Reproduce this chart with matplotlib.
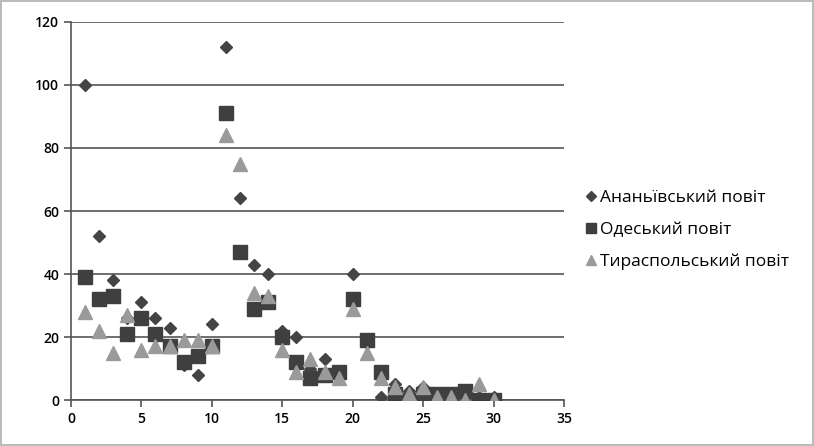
import numpy as np
import matplotlib
matplotlib.use('Agg')
import matplotlib.pyplot as plt

plt.rcParams['font.family'] = ['Open Sans', 'DejaVu Sans']

x_days = list(range(1, 31))
ananiv = [100, 52, 38, 26, 31, 26, 23, 11, 8, 24,
          112, 64, 43, 40, 22, 20, 10, 13, 9, 40,
          18, 1, 5, 3, 4, 2, 2, 2, 1, 1]
odesa = [39, 32, 33, 21, 26, 21, 17, 12, 14, 17,
         91, 47, 29, 31, 20, 12, 7, 8, 9, 32,
         19, 9, 2, 0, 2, 2, 2, 3, 0, 0]
tiraspol = [28, 22, 15, 27, 16, 17, 17, 19, 19, 17,
            84, 75, 34, 33, 16, 9, 13, 9, 7, 29,
            15, 7, 4, 2, 4, 1, 1, 0, 5, 0]
names = ['Ананьївський повіт', 'Одеський повіт', 'Тираспольський повіт']

fig = plt.figure(figsize=(8.14, 4.46), dpi=100)
fig.patch.set_edgecolor('#bbbbbb')
fig.patch.set_linewidth(1.5)
ax = fig.add_axes([0.0872, 0.1031, 0.6056, 0.8476])

ax.plot(x_days, ananiv, 'D', color='#444444', markersize=6.5, label=names[0], zorder=3)
ax.plot(x_days, odesa, 's', color='#3f3f3f', markersize=9.5, label=names[1], zorder=4)
ax.plot(x_days, tiraspol, '^', color='#9a9a9a', markersize=9.5, label=names[2], zorder=5)

ax.set_xlim(0, 35)
ax.set_ylim(0, 120)
ax.set_xticks(range(0, 36, 5))
ax.set_yticks(range(0, 121, 20))
ax.yaxis.grid(True, color='#555555', linewidth=1.2)
ax.set_axisbelow(True)
for s in ['top', 'right']:
    ax.spines[s].set_visible(False)
ax.spines['left'].set_color('#555555')
ax.spines['bottom'].set_color('#555555')
ax.spines['left'].set_linewidth(1.2)
ax.spines['bottom'].set_linewidth(1.2)
ax.tick_params(axis='both', colors='#555555', labelcolor='black', labelsize=10, width=1.2, length=5)
for lbl in ax.get_xticklabels() + ax.get_yticklabels():
    lbl.set_fontweight('semibold')

leg = ax.legend(loc='center left', bbox_to_anchor=(1.005, 0.45), frameon=False,
                fontsize=12.5, handletextpad=0.05, handlelength=1.0, labelspacing=0.9,
                markerscale=0.8)
for t in leg.get_texts():
    t.set_fontweight('medium')

fig.savefig('out.png', dpi=100)
